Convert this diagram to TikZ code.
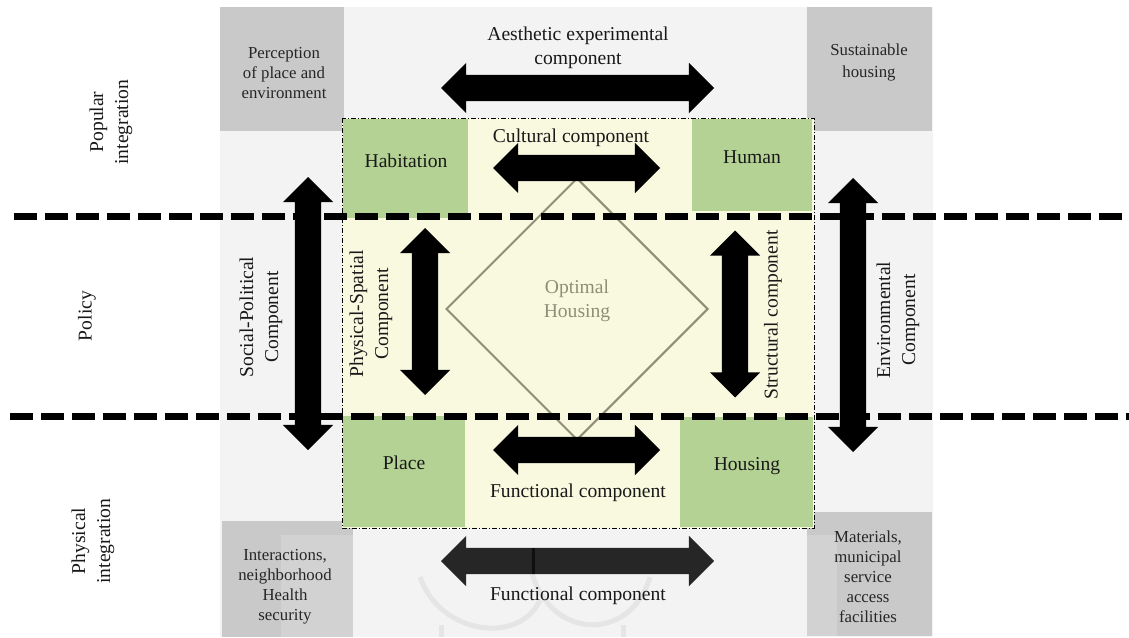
\documentclass[tikz,border=0pt]{standalone}
\usepackage{fontspec}
\setmainfont{Liberation Serif}
\usetikzlibrary{shapes.arrows,shapes.geometric}
\definecolor{bgg}{HTML}{F3F3F3}
\definecolor{cor}{HTML}{C9C9C9}
\definecolor{corl}{HTML}{D2D2D2}
\definecolor{yel}{HTML}{F9F9E0}
\definecolor{grn}{HTML}{B4D293}
\definecolor{dia}{HTML}{8F8F77}
\tikzset{
  x=1pt,y=-1pt,
  lab/.style={font=\fontsize{16.8}{20}\selectfont,align=center,inner sep=0,text=black!85},
  labb/.style={font=\fontsize{19.6}{23.5}\selectfont,align=center,inner sep=0,text=black!90},
  labr/.style={font=\fontsize{19.6}{25}\selectfont,align=center,inner sep=0,text=black!90,rotate=90},
  barrow/.style={double arrow,fill=#1,draw=none,inner sep=0,double arrow head extend=12pt,double arrow tip angle=90},
  barrow/.default=black,
  rule/.style={line width=7pt,dash pattern=on 23pt off 8pt,black},
}
\newcommand{\boxat}[6]{\path[fill=#6] (#2,#3) rectangle (#4,#5) node[pos=.5,inner sep=0] (#1) {};}
\newcommand{\shaft}{\rule{0pt}{26pt}}
\begin{document}
\begin{tikzpicture}
\useasboundingbox (0,0) rectangle (1129,637);
\fill[white] (0,0) rectangle (1129,637);
\boxat{bg}{220}{7}{933}{637}{bgg}
% watermark
\draw[black!10,line width=5pt] (420,577) .. controls (440,635) and (520,645) .. (540,600);
\draw[black!10,line width=5pt] (530,565) .. controls (545,640) and (630,645) .. (650,577);
\draw[black!10,line width=5pt] (441,625) -- (441,637);
\draw[black!10,line width=5pt] (623,625) -- (623,637);
\boxat{tl}{220}{7}{344}{131}{cor}
\boxat{tr}{807}{7}{932}{131}{cor}
\boxat{bl}{222}{521}{353}{637}{cor}
\boxat{br}{807}{512}{932}{636}{cor}
\path[fill=corl] (281,535) rectangle (353,637);
\path[fill=corl] (807,535) rectangle (837,636);
\boxat{core}{342}{118}{814}{528}{yel}
\boxat{hab}{343}{119}{468}{218}{grn}
\boxat{hum}{692}{119}{812}{211}{grn}
\boxat{pla}{343}{416}{465}{527}{grn}
\boxat{hou}{680}{417}{813}{527}{grn}
\draw[black,line width=.8pt,dash pattern=on 5pt off 2pt on 1pt off 2pt] (342,118) rectangle (814,528);
\node[diamond,draw=dia,line width=2pt,minimum width=262pt,minimum height=262pt,inner sep=0] (opt) at (577,309) {};
\node[barrow] (a1) at (577.5,88) [minimum height=273pt] {\shaft};
\node[barrow] (a2) at (576.5,168) [minimum height=167pt] {\shaft};
\node[barrow] (a3) at (576.5,450) [minimum height=167pt] {\shaft};
\node[barrow=black!85] (a4) at (577.5,561) [minimum height=273pt] {\shaft};
\fill[black,opacity=.6] (531.5,548) rectangle (535,574);
\node[barrow,rotate=90] (a5) at (308,313.5) [minimum height=273pt] {\shaft};
\node[barrow,rotate=90] (a6) at (853,315) [minimum height=274pt] {\shaft};
\node[barrow,rotate=90] (a7) at (425,311.5) [minimum height=167pt] {\shaft};
\node[barrow,rotate=90] (a8) at (735,314) [minimum height=167pt] {\shaft};
\draw[rule] (14,216) -- (1129,216);
\draw[rule] (10,416) -- (1129,416);
\node[lab] (t1) at (284,73) {Perception\\of place and\\environment};
\node[lab,align=center,font=\fontsize{16.8}{22}\selectfont] (t2) at (869,62) {Sustainable\\housing};
\node[lab] (t3) at (285,587) {Interactions,\\neighborhood\\Health\\security};
\node[lab] (t4) at (868,577) {Materials,\\municipal\\service\\access\\facilities};
\node[labb] (t5) at (578,48) {Aesthetic experimental\\component};
\node[labb] (t6) at (571,138) {Cultural component};
\node[labb] (t7) at (578,493) {Functional component};
\node[labb] (t8) at (578,596) {Functional component};
\node[labb] (t9) at (406,161) {Habitation};
\node[labb] (t10) at (752,157) {Human};
\node[labb] (t11) at (404,463) {Place};
\node[labb] (t12) at (747,466) {Housing};
\node[labb,text=dia] (t13) at (577,301) {Optimal\\Housing};
\node[labr] (t14) at (261,317) {Social-Political\\Component};
\node[labr] (t15) at (371,314) {Physical-Spatial\\Component};
\node[labr] (t16) at (773,315) {Structural component};
\node[labr] (t17) at (898,320) {Environmental\\Component};
\node[labr] (t18) at (111,122) {Popular\\integration};
\node[labr] (t19) at (87,316) {Policy};
\node[labr] (t20) at (93,541) {Physical\\integration};
\end{tikzpicture}
\end{document}
